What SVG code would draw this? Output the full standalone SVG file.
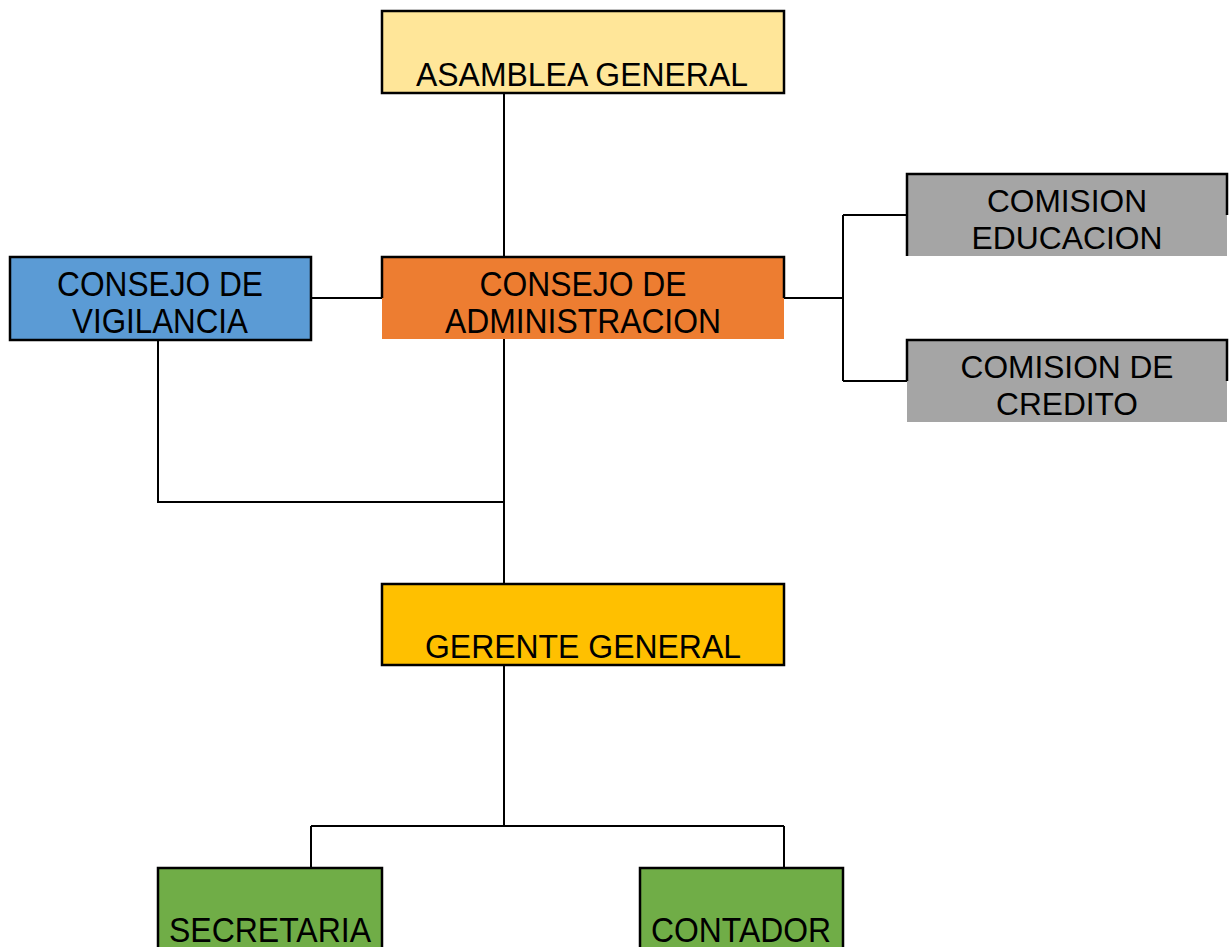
<svg xmlns="http://www.w3.org/2000/svg" width="1232" height="947" viewBox="0 0 1232 947">
<style>
.t{font-family:"Liberation Sans",Arial,sans-serif;fill:#000;text-anchor:middle}
.n{font-size:31px}
.m{font-size:33px}
.c{font-size:35px}
.b{fill:none;stroke:#000;stroke-width:2.5}
.l{fill:none;stroke:#000;stroke-width:2}
</style>
<rect width="1232" height="947" fill="#fff"/>
<g id="connectors">
<path class="l" d="M504 93V257"/>
<path class="l" d="M311 298H382"/>
<path class="l" d="M784 298H843M843 215V381M843 215H907M843 381H907"/>
<path class="l" d="M504 339V584"/>
<path class="l" d="M158 340V502H504"/>
<path class="l" d="M504 665V826M311 826H784M311 826V868M784 826V868"/>
</g>
<g id="asamblea">
<rect x="382" y="11" width="402" height="82" fill="#FFE699"/>
<rect class="b" x="382" y="11" width="402" height="82"/>
<text class="t m" x="582" y="86" textLength="332" lengthAdjust="spacingAndGlyphs">ASAMBLEA GENERAL</text>
</g>
<g id="vigilancia">
<rect x="10" y="257" width="301" height="83" fill="#5B9BD5"/>
<rect class="b" x="10" y="257" width="301" height="83"/>
<text class="t c" x="160" y="296" textLength="206" lengthAdjust="spacingAndGlyphs">CONSEJO DE</text>
<text class="t c" x="160" y="333" textLength="176" lengthAdjust="spacingAndGlyphs">VIGILANCIA</text>
</g>
<g id="administracion">
<rect x="382" y="257" width="402" height="82" fill="#ED7D31"/>
<path class="b" d="M382 298V257H784V298"/>
<text class="t c" x="583" y="296" textLength="207" lengthAdjust="spacingAndGlyphs">CONSEJO DE</text>
<text class="t c" x="583" y="333" textLength="276" lengthAdjust="spacingAndGlyphs">ADMINISTRACION</text>
</g>
<g id="educacion">
<rect x="907" y="174" width="320" height="82" fill="#A5A5A5"/>
<path class="b" d="M907 256V174H1227V215"/>
<text class="t n" x="1067" y="212" textLength="160" lengthAdjust="spacingAndGlyphs">COMISION</text>
<text class="t n" x="1067" y="249" textLength="191" lengthAdjust="spacingAndGlyphs">EDUCACION</text>
</g>
<g id="credito">
<rect x="907" y="340" width="320" height="82" fill="#A5A5A5"/>
<path class="b" d="M907 381V340H1227V381"/>
<text class="t n" x="1067" y="378" textLength="213" lengthAdjust="spacingAndGlyphs">COMISION DE</text>
<text class="t n" x="1067" y="415" textLength="142" lengthAdjust="spacingAndGlyphs">CREDITO</text>
</g>
<g id="gerente">
<rect x="382" y="584" width="402" height="81" fill="#FFC000"/>
<rect class="b" x="382" y="584" width="402" height="81"/>
<text class="t m" x="583" y="658" textLength="316" lengthAdjust="spacingAndGlyphs">GERENTE GENERAL</text>
</g>
<g id="secretaria">
<rect x="158" y="868" width="224" height="85" fill="#70AD47"/>
<rect class="b" x="158" y="868" width="224" height="85"/>
<text class="t c" x="270" y="942" textLength="202" lengthAdjust="spacingAndGlyphs">SECRETARIA</text>
</g>
<g id="contador">
<rect x="640" y="868" width="203" height="85" fill="#70AD47"/>
<rect class="b" x="640" y="868" width="203" height="85"/>
<text class="t c" x="741" y="942" textLength="180" lengthAdjust="spacingAndGlyphs">CONTADOR</text>
</g>
</svg>
